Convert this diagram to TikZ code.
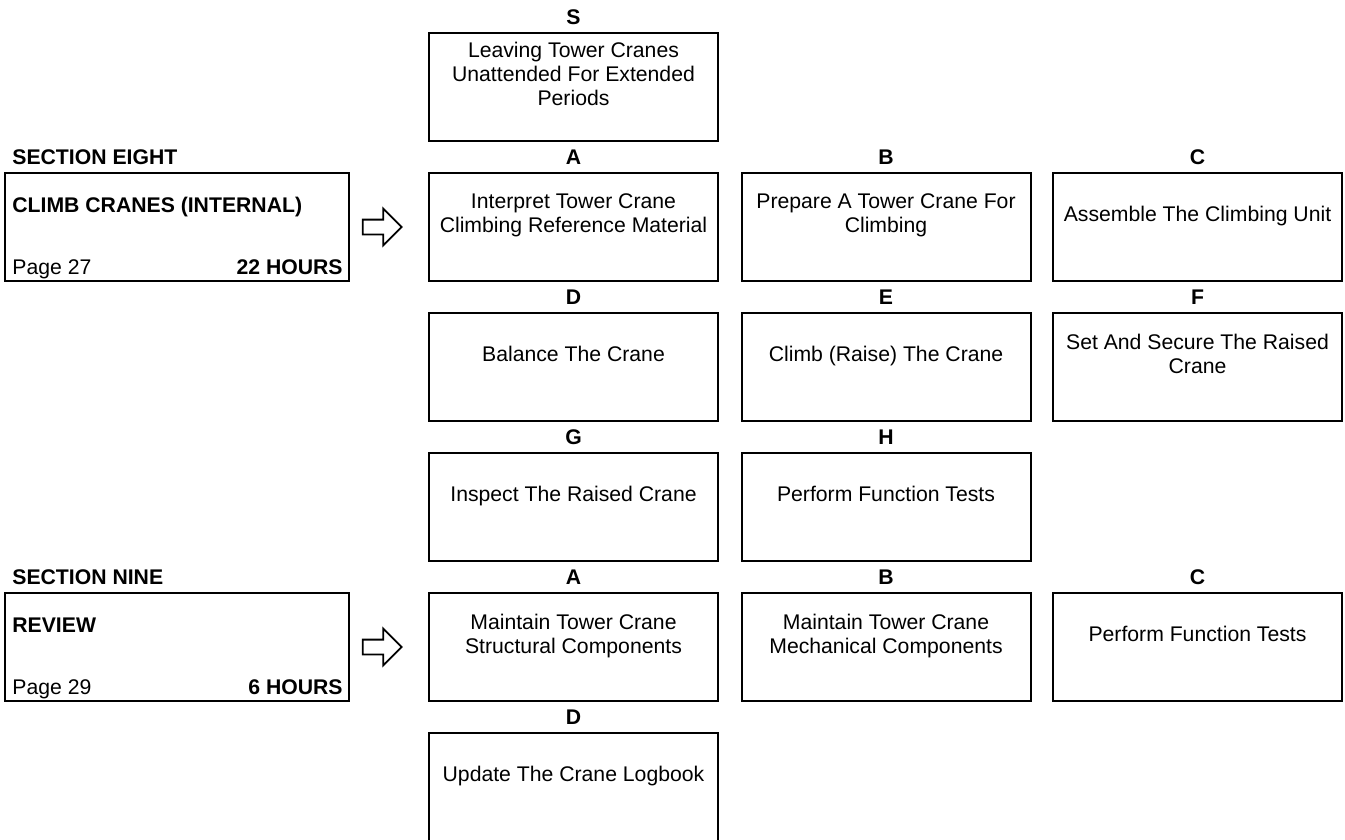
\documentclass[tikz,border=0pt]{standalone}
\usepackage{fontspec}
\setmainfont{Liberation Sans}
\usetikzlibrary{shapes.arrows}
\newcommand\fsz{\fontsize{10.6}{12}\selectfont}
\newcommand\task[6]{%
  \node[box] (#1) at (#2,#3+54) {};
  \node[lbl, anchor=base] (#1l) at (#2,#3-8.5) {#4};
  \node[txt] (#1t) at (#2,#3+44.5-#5*12) {#6};
}
\begin{document}
\begin{tikzpicture}[x=0.5pt,y=-0.5pt,
  every node/.style={font=\fsz},
  box/.style={draw, line width=1pt, minimum width=144.5pt, minimum height=54pt, inner sep=0pt},
  secbox/.style={draw, line width=1pt, minimum width=172pt, minimum height=54pt, inner sep=0pt},
  lbl/.style={font=\fsz\bfseries, inner sep=0pt},
  plain/.style={inner sep=0pt},
  txt/.style={align=center, inner sep=0pt, anchor=north},
  bigarrow/.style={single arrow, draw, line width=0.9pt, minimum height=19.5pt,
    single arrow head extend=5.5pt, inner xsep=0pt, inner ysep=3.25pt}
]
\clip (0,0) rectangle (1345,840);
% ---- Section eight
\node[lbl, anchor=base west] (s8l) at (12,164.5) {SECTION EIGHT};
\node[secbox] (s8) at (177,227) {};
\node[lbl, anchor=base west] (s8t) at (12,212.5) {CLIMB CRANES (INTERNAL)};
\node[plain, anchor=base west] (s8p) at (12,274.5) {Page 27};
\node[lbl, anchor=base east] (s8h) at (343,274.5) {22 HOURS};
\node[bigarrow] (a8) at (378.5,227) {};
% ---- Section nine
\node[lbl, anchor=base west] (s9l) at (12,584.5) {SECTION NINE};
\node[secbox] (s9) at (177,647) {};
\node[lbl, anchor=base west] (s9t) at (12,632.5) {REVIEW};
\node[plain, anchor=base west] (s9p) at (12,694.5) {Page 29};
\node[lbl, anchor=base east] (s9h) at (343,694.5) {6 HOURS};
\node[bigarrow] (a9) at (378.5,647) {};
% ---- tasks
\task{S}{573.5}{33}{S}{3}{Leaving Tower Cranes\\Unattended For Extended\\Periods}
\task{A8}{573.5}{173}{A}{2}{Interpret Tower Crane\\Climbing Reference Material}
\task{B8}{886}{173}{B}{2}{Prepare A Tower Crane For\\Climbing}
\task{C8}{1197.5}{173}{C}{1}{Assemble The Climbing Unit}
\task{D8}{573.5}{313}{D}{1}{Balance The Crane}
\task{E8}{886}{313}{E}{1}{Climb (Raise) The Crane}
\task{F8}{1197.5}{313}{F}{2}{Set And Secure The Raised\\Crane}
\task{G8}{573.5}{453}{G}{1}{Inspect The Raised Crane}
\task{H8}{886}{453}{H}{1}{Perform Function Tests}
\task{A9}{573.5}{593}{A}{2}{Maintain Tower Crane\\Structural Components}
\task{B9}{886}{593}{B}{2}{Maintain Tower Crane\\Mechanical Components}
\task{C9}{1197.5}{593}{C}{1}{Perform Function Tests}
\task{D9}{573.5}{733}{D}{1}{Update The Crane Logbook}
\end{tikzpicture}
\end{document}
